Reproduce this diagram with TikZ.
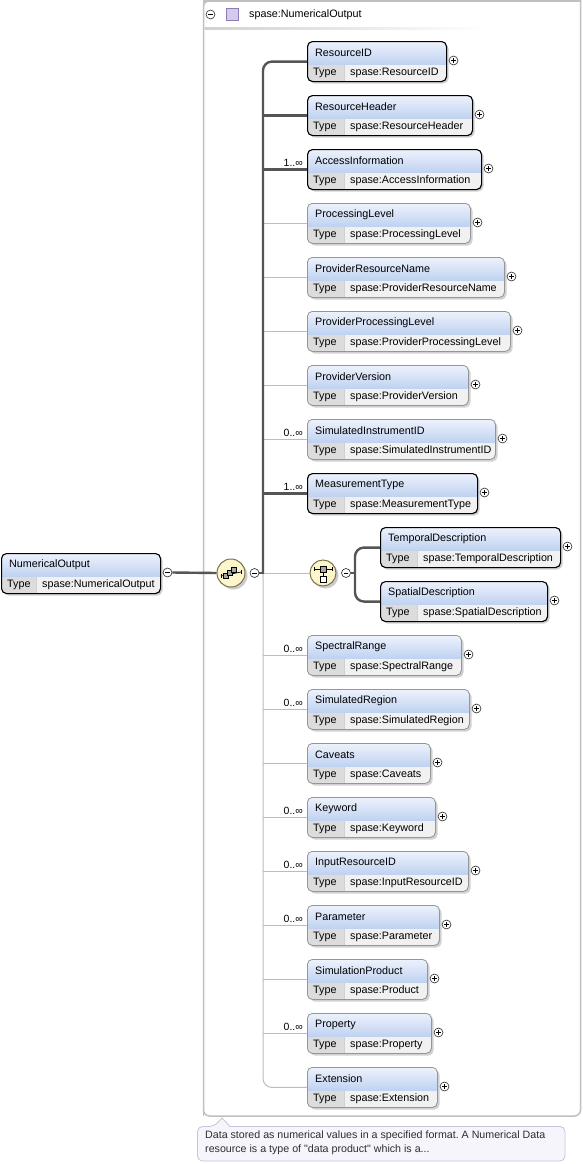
\documentclass[tikz,border=0pt]{standalone}
\usepackage{fontspec}
\setmainfont{Liberation Sans}
\usetikzlibrary{calc}
\frenchspacing
\definecolor{hdtop}{RGB}{238,243,252}
\definecolor{hdbot}{RGB}{190,209,240}
\definecolor{typec}{RGB}{220,220,220}
\definecolor{valc}{RGB}{241,241,241}
\definecolor{optb}{RGB}{150,150,150}
\definecolor{conn}{RGB}{85,85,85}
\definecolor{thinline}{RGB}{188,188,188}
\definecolor{boxc}{RGB}{192,192,192}
\definecolor{seqfill}{RGB}{252,246,202}
\definecolor{seqdraw}{RGB}{120,115,80}
\definecolor{lav}{RGB}{212,202,236}
\definecolor{lavd}{RGB}{140,125,185}
\definecolor{notefill}{RGB}{247,245,252}
\definecolor{notedraw}{RGB}{200,194,218}
\definecolor{notetext}{RGB}{45,45,45}
\tikzset{
  x=1bp, y=-1bp,
  mand/.style={draw=black, line width=1.1bp},
  opt/.style={draw=optb, line width=0.8bp},
  lbl/.style={font=\fontsize{10.8}{12}\selectfont, inner sep=0, anchor=west},
  occl/.style={font=\fontsize{10.5}{12}\selectfont, inner sep=0, anchor=south east},
  pmc/.style={circle, draw=black!85, fill=white, line width=0.6bp, minimum size=9bp, inner sep=0},
  thickc/.style={draw=conn, line width=2.4bp},
  thinc/.style={draw=thinline, line width=1bp},
  compositor/.style={circle, draw=seqdraw, fill=seqfill, line width=1bp, inner sep=0},
}
% #1 id, #2 x, #3 y, #4 w, #5 name, #6 type, #7 style, #8 type cell width, #9 sign (p/m)
\newcommand\elem[9]{%
  \fill[black!18, rounded corners=5bp] (#2+2.5,#3+2.5) rectangle ++(#4,40);
  \begin{scope}
    \clip[rounded corners=5bp] (#2,#3) rectangle ++(#4,40);
    \shade[top color=hdtop, bottom color=hdbot] (#2,#3) rectangle ++(#4,24);
    \fill[typec] (#2,#3+24) rectangle ++(#8,16);
    \fill[valc] (#2+#8+1,#3+24) rectangle (#2+#4,#3+40);
  \end{scope}
  \node[#7, rounded corners=5bp, minimum width=#4bp, minimum height=40bp, inner sep=0, anchor=north west] (#1) at (#2,#3) {};
  \node[lbl] at (#2+8,#3+11.5) {#5};
  \node[lbl] at (#2+6,#3+31.5) {Type};
  \node[lbl] at (#2+#8+6,#3+31.5) {#6};
  \node[pmc] (#1s) at (#2+#4+7.5,#3+19.5) {};
  \draw[line width=0.7bp] ($(#1s.center)+(-2.3,0)$) -- ($(#1s.center)+(2.3,0)$);
  \if#9p\draw[line width=0.7bp] ($(#1s.center)+(0,-2.3)$) -- ($(#1s.center)+(0,2.3)$);\fi
}
\newcommand\occ[2]{\node[occl] at (303,#1+18) {#2};}
\begin{document}
\begin{tikzpicture}
\useasboundingbox (0,0) rectangle (583,1164);
% outer box
\draw[boxc, line width=1.5bp, rounded corners=6bp] (203.5,1116) -- (203.5,0.75) [sharp corners] -- (580.5,0.75) [rounded corners=6bp] -- (580.5,1116) -- cycle;
\draw[boxc, line width=1.5bp] (203.5,1116) -- (203.5,0.75) -- (580.5,0.75) -- (580.5,1000);
% header
\node[pmc] (hdm) at (210.5,14.5) {};
\draw[line width=0.7bp] ($(hdm.center)+(-2.3,0)$) -- ($(hdm.center)+(2.3,0)$);
\draw[lavd, fill=lav, line width=0.8bp] (226.5,8.5) rectangle (238.5,20.5);
\node[lbl] (hdt) at (249,14.5) {spase:NumericalOutput};
\shade[left color=black!18, right color=white] (204.5,27.5) rectangle (490,29);

% main element
\elem{NumericalOutput}{1}{553}{159}{NumericalOutput}{spase:NumericalOutput}{mand}{35}{m}

% sequence compositor
\fill[black!20] (233.5,575.5) circle (14);
\node[compositor, minimum size=28bp] (seq) at (231,573) {};
\draw[line width=0.7bp] (221,576) -- (241,572);
\draw[line width=0.7bp] (221,574) -- (221,578) (241,570) -- (241,574);
\foreach \dx/\dy in {-5/3, -1/0, 3/-3}
  \draw[black, fill=black!35, line width=0.6bp] ($(seq.center)+(\dx-2.5,\dy-2.5)$) rectangle ++(5,5);
\node[pmc] (seqm) at (254.5,573) {};
\draw[line width=0.7bp] ($(seqm.center)+(-2.3,0)$) -- ($(seqm.center)+(2.3,0)$);
\draw[thickc] (NumericalOutputs.east) -- (seq.west);

\coordinate (bus) at (263,573);

% children
\elem{ResourceID}{307}{41}{139}{ResourceID}{spase:ResourceID}{mand}{37}{p}
\elem{ResourceHeader}{307}{95}{165}{ResourceHeader}{spase:ResourceHeader}{mand}{37}{p}
\elem{AccessInformation}{307}{149}{174}{AccessInformation}{spase:AccessInformation}{mand}{37}{p}
\elem{ProcessingLevel}{307}{203}{163}{ProcessingLevel}{spase:ProcessingLevel}{opt}{37}{p}
\elem{ProviderResourceName}{307}{257}{197}{ProviderResourceName}{spase:ProviderResourceName}{opt}{37}{p}
\elem{ProviderProcessingLevel}{307}{311}{203}{ProviderProcessingLevel}{spase:ProviderProcessingLevel}{opt}{37}{p}
\elem{ProviderVersion}{307}{365}{161}{ProviderVersion}{spase:ProviderVersion}{opt}{37}{p}
\elem{SimulatedInstrumentID}{307}{419}{188}{SimulatedInstrumentID}{spase:SimulatedInstrumentID}{opt}{37}{p}
\elem{MeasurementType}{307}{473}{170}{MeasurementType}{spase:MeasurementType}{mand}{37}{p}
\elem{SpectralRange}{307}{635}{154}{SpectralRange}{spase:SpectralRange}{opt}{37}{p}
\elem{SimulatedRegion}{307}{689}{162}{SimulatedRegion}{spase:SimulatedRegion}{opt}{37}{p}
\elem{Caveats}{307}{743}{123}{Caveats}{spase:Caveats}{opt}{37}{p}
\elem{Keyword}{307}{797}{128}{Keyword}{spase:Keyword}{opt}{37}{p}
\elem{InputResourceID}{307}{851}{161}{InputResourceID}{spase:InputResourceID}{opt}{37}{p}
\elem{Parameter}{307}{905}{132}{Parameter}{spase:Parameter}{opt}{37}{p}
\elem{SimulationProduct}{307}{959}{120}{SimulationProduct}{spase:Product}{opt}{37}{p}
\elem{Property}{307}{1013}{124}{Property}{spase:Property}{opt}{37}{p}
\elem{Extension}{307}{1067}{130}{Extension}{spase:Extension}{opt}{37}{p}

% choice compositor
\fill[black!20] (325.5,575.5) circle (13);
\node[compositor, minimum size=26bp] (choice) at (323,573) {};
\draw[line width=0.7bp] (314,569) -- (332,569) (314,567) -- (314,571) (332,567) -- (332,571);
\draw[line width=0.7bp] (323,569) -- (323,576);
\draw[black, fill=black!35, line width=0.6bp] (320,566) rectangle (326,572);
\draw[black, fill=white, line width=0.6bp] (320,576) rectangle (326,582);
\node[pmc] (cm) at (346,573) {};
\draw[line width=0.7bp] ($(cm.center)+(-2.3,0)$) -- ($(cm.center)+(2.3,0)$);
\coordinate (cbus) at (355,573);
\elem{TemporalDescription}{380}{527}{180}{TemporalDescription}{spase:TemporalDescription}{mand}{37}{p}
\elem{SpatialDescription}{380}{581}{167}{SpatialDescription}{spase:SpatialDescription}{mand}{37}{p}

% sequence bus
\draw[thinc, rounded corners=9bp] (bus) -- (bus |- Extension.west) -- (Extension.west);
\foreach \n in {ProcessingLevel,ProviderResourceName,ProviderProcessingLevel,ProviderVersion,SimulatedInstrumentID}
  \draw[thinc] (bus |- \n.west) -- (\n.west);
\foreach \n in {SpectralRange,SimulatedRegion,Caveats,Keyword,InputResourceID,Parameter,SimulationProduct,Property}
  \draw[thinc] (bus |- \n.west) -- (\n.west);
\draw[thinc] (bus) -- (choice.west);
\draw[thickc] (seqm.east) -- ($(bus)+(1.2,0)$);
\draw[thickc, rounded corners=9bp] (bus) -- (bus |- ResourceID.west) -- (ResourceID.west);
\foreach \n in {ResourceHeader,AccessInformation,MeasurementType}
  \draw[thickc] (bus |- \n.west) -- (\n.west);

% choice bus
\draw[thickc] (cm.east) -- (cbus);
\draw[thickc, rounded corners=9bp] (cbus) -- (cbus |- TemporalDescription.west) -- (TemporalDescription.west);
\draw[thickc, rounded corners=9bp] (cbus) -- (cbus |- SpatialDescription.west) -- (SpatialDescription.west);

% occurrences
\occ{149}{1..∞}
\occ{419}{0..∞}
\occ{473}{1..∞}
\occ{635}{0..∞}
\occ{689}{0..∞}
\occ{797}{0..∞}
\occ{851}{0..∞}
\occ{905}{0..∞}
\occ{1013}{0..∞}

% annotation
\draw[notedraw, fill=notefill, line width=0.8bp, rounded corners=5bp] (197.5,1126.5) -- (214,1126.5) [sharp corners] -- (222,1118) -- (230,1126.5) [rounded corners=5bp] -- (565,1126.5) -- (565,1161) -- (197.5,1161) -- cycle;
\node[font=\fontsize{10.7}{14}\selectfont, text=notetext, inner sep=0, anchor=north west, align=left] (note) at (205,1131) {Data stored as numerical values in a specified format. A Numerical Data\\resource is a type of \textquotedbl data product\textquotedbl{} which is a...};
\end{tikzpicture}
\end{document}
